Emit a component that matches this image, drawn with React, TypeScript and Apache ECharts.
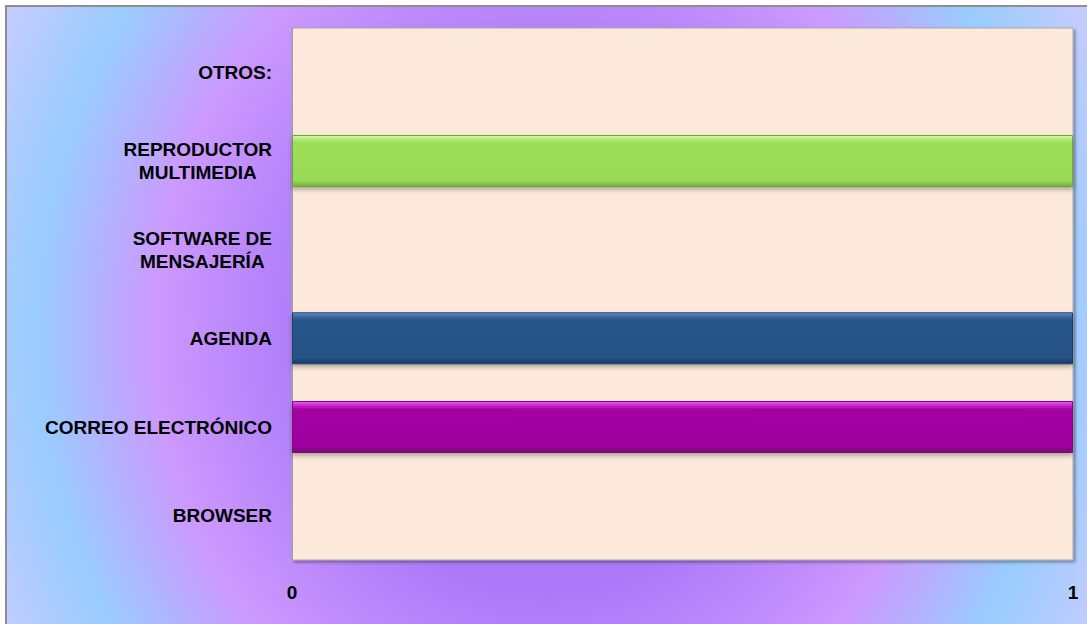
import React, { useEffect, useRef } from "react";
import * as echarts from "echarts";

const categories = [
  "BROWSER",
  "CORREO ELECTRÓNICO",
  "AGENDA",
  "SOFTWARE DE\nMENSAJERÍA",
  "REPRODUCTOR\nMULTIMEDIA",
  "OTROS:",
];
const values = [0, 1, 1, 0, 1, 0];
const xTicks = [0, 1];

// per-category bar palette: [highlight, light, main, mainBottom, dark edge, border]
const palettes: Record<string, string[]> = {
  "CORREO ELECTRÓNICO": ["#F25AF2", "#D02CD0", "#A406A4", "#A003A0", "#700A70", "#7A0A7A"],
  AGENDA: ["#6A96CC", "#3E6AA4", "#28558A", "#265285", "#183860", "#1C3E68"],
  "REPRODUCTOR\nMULTIMEDIA": ["#D2F8A6", "#B2EB78", "#9EDF5A", "#9ADB56", "#74AE3C", "#6FA43A"],
};

const FONT = "'Liberation Sans', Arial, sans-serif";

export default function App() {
  const ref = useRef<HTMLDivElement>(null);

  useEffect(() => {
    if (!ref.current) return;
    const chart = echarts.init(ref.current, null, { renderer: "svg" });

    const data = values.map((v, i) => {
      const p = palettes[categories[i]];
      if (!p || v === 0) return { value: v, itemStyle: { borderWidth: 0, shadowBlur: 0, color: "transparent" } };
      return {
        value: v,
        itemStyle: {
          color: new echarts.graphic.LinearGradient(0, 0, 0, 1, [
            { offset: 0, color: p[0] },
            { offset: 0.07, color: p[1] },
            { offset: 0.14, color: p[2] },
            { offset: 0.88, color: p[3] },
            { offset: 1, color: p[4] },
          ]),
          borderColor: p[5],
          borderWidth: 1,
          shadowColor: "rgba(0,0,0,0.28)",
          shadowBlur: 4,
          shadowOffsetY: 3,
        },
      };
    });

    chart.setOption({
      animation: false,
      backgroundColor: "transparent",
      grid: {
        left: 292,
        top: 28,
        right: 14,
        bottom: 64,
        containLabel: false,
        outerBoundsMode: "none",
        show: true,
        backgroundColor: "#FDE9DB",
        borderColor: "#A8A8A8",
        borderWidth: 1,
        shadowColor: "rgba(0,0,0,0.35)",
        shadowBlur: 3,
        shadowOffsetX: 2,
        shadowOffsetY: 2,
      },
      xAxis: {
        type: "value",
        min: xTicks[0],
        max: xTicks[xTicks.length - 1],
        interval: 1,
        splitLine: { show: false },
        axisLine: { show: false },
        axisTick: { show: false },
        axisLabel: {
          color: "#000",
          fontSize: 19,
          fontWeight: "bold",
          fontFamily: FONT,
          verticalAlign: "middle",
          margin: 32,
        },
      },
      yAxis: {
        type: "category",
        data: categories,
        axisLine: { show: true, lineStyle: { color: "#A0A0A0", width: 1 } },
        axisTick: { show: false },
        splitLine: { show: false },
        axisLabel: {
          color: "#000",
          fontSize: 19,
          fontWeight: "bold",
          fontFamily: FONT,
          lineHeight: 23,
          margin: 20,
          align: "right",
          formatter: (v: string) =>
            v
              .split("\n")
              .map((l) => `{c|${l}}`)
              .join("\n"),
          rich: {
            c: {
              align: "center",
              color: "#000",
              fontSize: 19,
              fontWeight: "bold",
              fontFamily: FONT,
              lineHeight: 23,
            },
          },
        },
      },
      series: [
        {
          type: "bar",
          data,
          barWidth: 52,
          silent: true,
        },
      ],
    });

    return () => chart.dispose();
  }, []);

  return (
    <div
      style={{
        position: "fixed",
        left: 0,
        top: 0,
        width: 1087,
        height: 624,
        overflow: "hidden",
        background: "#ffffff",
      }}
    >
      <div
        style={{
          position: "absolute",
          left: 5,
          top: 5,
          width: 1120,
          height: 660,
          borderTop: "2px solid #8E8E8E",
          borderLeft: "2px solid #8E8E8E",
          background:
            "radial-gradient(ellipse 560px 620px at 540px 325px, #A470F8 0%, #AC7AF8 42%, #CC99FF 70%, #99CCFF 91%, #CCCCFF 112%)",
        }}
      />
      <div ref={ref} style={{ position: "absolute", left: 0, top: 0, width: 1087, height: 624 }} />
    </div>
  );
}
